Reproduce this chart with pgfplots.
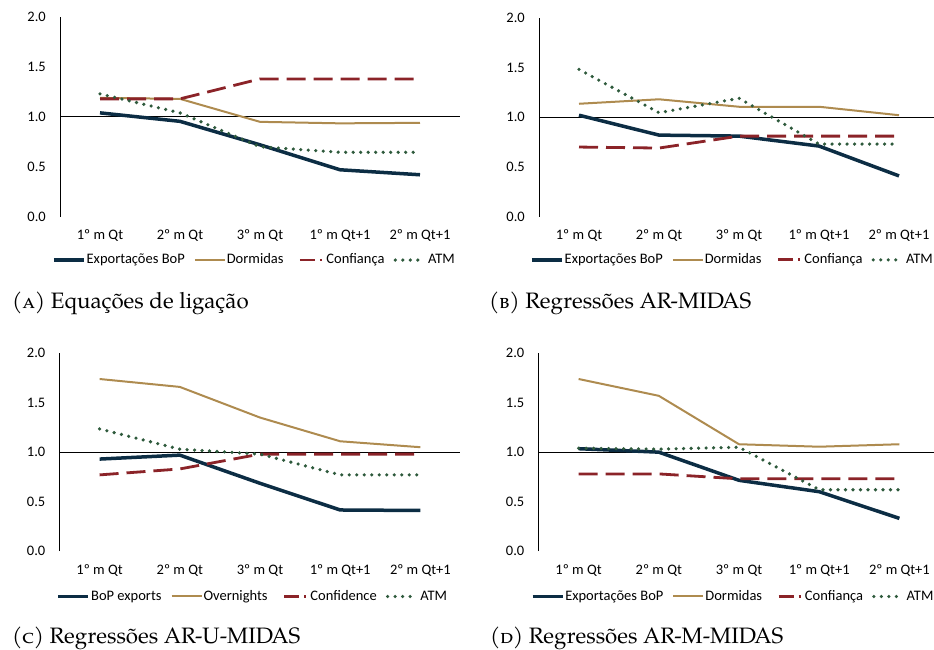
\documentclass[border=0pt]{standalone}
\usepackage{fontspec}
\setmainfont{Carlito}
\newfontfamily\pal{TeX Gyre Pagella}
\usepackage{pgfplots}
\pgfplotsset{compat=1.18}
\definecolor{cexp}{HTML}{0C2D44}
\definecolor{cdor}{HTML}{AE8B4F}
\definecolor{ccon}{HTML}{8B2328}
\definecolor{catm}{HTML}{2E5A3C}
\newcommand{\tfont}{\fontsize{14.5}{16}\selectfont}
\pgfplotsset{
  every axis/.append style={font=\tfont},
  panel/.style={
    scale only axis, width=400pt, height=199.5pt, anchor=south west,
    xmin=-0.5, xmax=4.5, ymin=0, ymax=2, clip=false,
    axis line style={draw=none},
    xtick={0,1,2,3,4},
    xticklabels={1º m Qt, 2º m Qt, 3º m Qt, 1º m Qt+1, 2º m Qt+1},
    ytick={0,0.5,1,1.5,2},
    major tick length=0pt, tick style={draw=none},
    yticklabel={\pgfmathprintnumber[fixed, fixed zerofill, precision=1, assume math mode=true]{\tick}},
    ticklabel style={font=\tfont},
    yticklabel style={anchor=east, inner sep=0pt, xshift=-14pt},
    xticklabel style={anchor=north, inner sep=0pt, yshift=-13pt},
    legend columns=4,
    legend style={draw=none, fill=none, font=\tfont,
      anchor=center, inner sep=0pt, nodes={inner sep=1pt, font=\tfont},
      /tikz/every even column/.append style={column sep=8pt}},
    legend image code/.code={\draw[##1] (0pt,0pt) -- (30pt,0pt);},
  },
  sexp/.style={cexp, line width=3.5pt, line join=round},
  sdor/.style={cdor, line width=2pt, line join=round},
  scon/.style={ccon, line width=2.8pt, dash pattern=on 19pt off 8pt,
     legend image code/.code={\draw[##1, dash pattern=on 0pt off 6pt on 15pt off 5pt on 2pt off 30pt] (0pt,0pt) -- (30pt,0pt);}},
  satm/.style={catm, line width=3.6pt, line cap=round, dash pattern=on 0pt off 7.5pt},
}
\newcommand{\axlines}{%
  \draw[black, line width=0.9pt] (axis cs:-0.5,0) -- (axis cs:-0.5,2);
  \draw[black, line width=0.9pt] (axis cs:-0.5,1) -- (axis cs:4.5,1);}
\begin{document}
\tfont
\begin{tikzpicture}
\useasboundingbox (0pt,0pt) rectangle (934pt,649pt);
% Panel A
\begin{axis}[panel, at={(60pt,432.3pt)}, height=199.7pt,
  legend style={at={(axis description cs:0.485,-0.217)}}]
\axlines
\addplot[sexp] coordinates {(0,1.04)(1,0.955)(2,0.72)(3,0.47)(4,0.42)};
\addplot[sdor] coordinates {(0,1.19)(1,1.18)(2,0.95)(3,0.935)(4,0.94)};
\addplot[scon] coordinates {(0,1.18)(1,1.18)(2,1.38)(3,1.38)(4,1.38)};
\addplot[satm] coordinates {(0,1.23)(1,1.04)(2,0.70)(3,0.645)(4,0.645)};
\legend{Exportações BoP, Dormidas, Confiança, ATM}
\end{axis}
% Panel B
\begin{axis}[panel, at={(539pt,432.3pt)}, height=199pt,
  legend style={at={(axis description cs:0.4825,-0.217)}}]
\axlines
\addplot[sexp] coordinates {(0,1.02)(1,0.82)(2,0.81)(3,0.71)(4,0.41)};
\addplot[sdor] coordinates {(0,1.135)(1,1.18)(2,1.105)(3,1.105)(4,1.02)};
\addplot[scon] coordinates {(0,0.70)(1,0.69)(2,0.81)(3,0.81)(4,0.81)};
\addplot[satm] coordinates {(0,1.48)(1,1.045)(2,1.19)(3,0.73)(4,0.73)};
\legend{Exportações BoP, Dormidas, Confiança, ATM}
\end{axis}
% Panel C
\begin{axis}[panel, at={(59.5pt,98pt)}, width=401pt, height=197.7pt,
  legend style={at={(axis description cs:0.481,-0.23)}}]
\axlines
\addplot[sexp] coordinates {(0,0.93)(1,0.97)(2,0.685)(3,0.415)(4,0.41)};
\addplot[sdor] coordinates {(0,1.74)(1,1.66)(2,1.35)(3,1.11)(4,1.05)};
\addplot[scon] coordinates {(0,0.77)(1,0.83)(2,0.98)(3,0.98)(4,0.98)};
\addplot[satm] coordinates {(0,1.235)(1,1.03)(2,0.98)(3,0.77)(4,0.77)};
\legend{BoP exports, Overnights, Confidence, ATM}
\end{axis}
% Panel D
\begin{axis}[panel, at={(538.5pt,98pt)}, width=401pt, height=197.7pt,
  legend style={at={(axis description cs:0.484,-0.23)}}]
\axlines
\addplot[sexp] coordinates {(0,1.035)(1,1.0)(2,0.715)(3,0.60)(4,0.33)};
\addplot[sdor] coordinates {(0,1.74)(1,1.57)(2,1.08)(3,1.055)(4,1.08)};
\addplot[scon] coordinates {(0,0.78)(1,0.78)(2,0.73)(3,0.73)(4,0.73)};
\addplot[satm] coordinates {(0,1.04)(1,1.03)(2,1.05)(3,0.62)(4,0.62)};
\legend{Exportações BoP, Dormidas, Confiança, ATM}
\end{axis}
% Captions
\node[anchor=base west, inner sep=0pt, font=\pal\fontsize{22.3}{24}\selectfont] at (12pt,340.7pt) {(\textsc{a}) Equações de ligação};
\node[anchor=base west, inner sep=0pt, font=\pal\fontsize{22.3}{24}\selectfont] at (489pt,340.7pt) {(\textsc{b}) Regressões AR-MIDAS};
\node[anchor=base west, inner sep=0pt, font=\pal\fontsize{22.3}{24}\selectfont] at (12pt,6pt) {(\textsc{c}) Regressões AR-U-MIDAS};
\node[anchor=base west, inner sep=0pt, font=\pal\fontsize{22.3}{24}\selectfont] at (490pt,6pt) {(\textsc{d}) Regressões AR-M-MIDAS};
\end{tikzpicture}
\end{document}
